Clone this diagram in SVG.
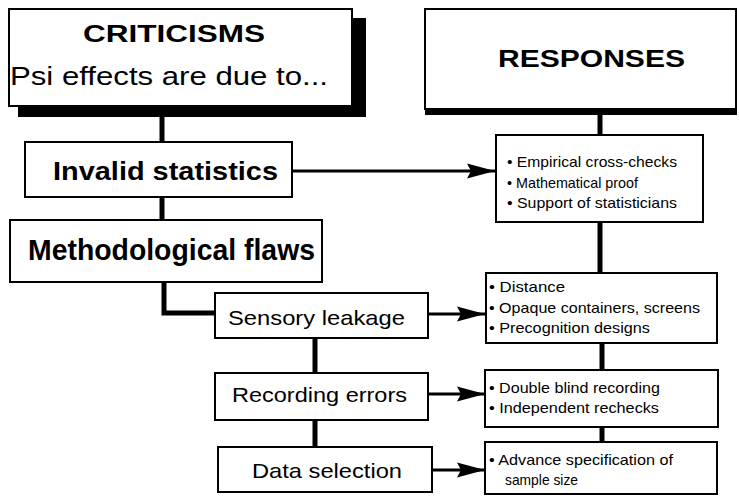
<svg xmlns="http://www.w3.org/2000/svg" width="739" height="496" viewBox="0 0 739 496">
<defs>
<style>
.box{fill:#fff;stroke:#000;stroke-width:2}
.t{font-family:"Liberation Sans",Arial,Helvetica,sans-serif;fill:#000}
.b{font-weight:bold}
.conn{stroke:#000;stroke-width:5;fill:none}
.arr{stroke:#000;stroke-width:3;fill:none;marker-end:url(#ah)}
.s{font-size:15px}
</style>
<marker id="ah" markerWidth="30" markerHeight="18" refX="28" refY="9" orient="auto" markerUnits="userSpaceOnUse">
<path d="M0,1.5 L28,9 L0,16.5 L4,9 Z" fill="#000"/>
</marker>
</defs>
<rect width="739" height="496" fill="#fff"/>

<g id="connectors">
<line class="conn" x1="162" y1="106" x2="162" y2="142"/>
<line class="conn" x1="162" y1="197" x2="162" y2="220"/>
<polyline class="conn" points="164,282 164,313 215,313"/>
<line class="conn" x1="315" y1="338" x2="315" y2="373"/>
<line class="conn" x1="315" y1="420" x2="315" y2="447"/>
<line class="conn" x1="600" y1="114" x2="600" y2="135"/>
<line class="conn" x1="600" y1="222" x2="600" y2="273"/>
<line class="conn" x1="602" y1="343" x2="602" y2="370"/>
<line class="conn" x1="602" y1="427" x2="602" y2="442"/>
<line class="arr" x1="292" y1="171" x2="495" y2="171"/>
<line class="arr" x1="428" y1="314" x2="485" y2="314"/>
<line class="arr" x1="428" y1="394" x2="485" y2="394"/>
<line class="arr" x1="432" y1="470" x2="485" y2="470"/>
</g>

<g id="criticisms">
<rect x="18" y="18" width="348" height="99" fill="#000"/>
<rect class="box" x="9" y="9" width="343" height="97" stroke-width="2.5"/>
<text class="t b" x="83" y="42" font-size="24" textLength="182" lengthAdjust="spacingAndGlyphs">CRITICISMS</text>
<text class="t" x="10" y="85" font-size="25" textLength="318" lengthAdjust="spacingAndGlyphs">Psi effects are due to...</text>
</g>

<g id="responses">
<rect x="425" y="108" width="312" height="7" fill="#000"/>
<rect class="box" x="425" y="9" width="311" height="100"/>
<text class="t b" x="498" y="67" font-size="24" textLength="187" lengthAdjust="spacingAndGlyphs">RESPONSES</text>
</g>

<g id="invalid-statistics">
<rect class="box" x="25" y="142" width="267" height="55"/>
<text class="t b" x="53" y="180" font-size="25" textLength="225" lengthAdjust="spacingAndGlyphs">Invalid statistics</text>
</g>

<g id="methodological-flaws">
<rect class="box" x="10" y="220" width="312" height="62"/>
<text class="t b" x="28" y="260" font-size="29" textLength="287" lengthAdjust="spacingAndGlyphs">Methodological flaws</text>
</g>

<g id="sensory-leakage">
<rect class="box" x="215" y="293" width="213" height="45"/>
<text class="t" x="228" y="325" font-size="21" textLength="177" lengthAdjust="spacingAndGlyphs">Sensory leakage</text>
</g>

<g id="recording-errors">
<rect class="box" x="215" y="373" width="213" height="47"/>
<text class="t" x="232" y="402" font-size="21" textLength="175" lengthAdjust="spacingAndGlyphs">Recording errors</text>
</g>

<g id="data-selection">
<rect class="box" x="218" y="447" width="214" height="45"/>
<text class="t" x="252" y="478" font-size="21" textLength="150" lengthAdjust="spacingAndGlyphs">Data selection</text>
</g>

<g id="resp-statistics">
<rect class="box" x="496" y="135" width="207" height="87"/>
<text class="t s" x="507" y="167" textLength="170" lengthAdjust="spacingAndGlyphs">• Empirical cross-checks</text>
<text class="t s" x="507" y="188" textLength="131" lengthAdjust="spacingAndGlyphs">• Mathematical proof</text>
<text class="t s" x="507" y="208" textLength="170" lengthAdjust="spacingAndGlyphs">• Support of statisticians</text>
</g>

<g id="resp-sensory">
<rect class="box" x="486" y="273" width="231" height="70"/>
<text class="t s" x="489" y="292" textLength="76" lengthAdjust="spacingAndGlyphs">• Distance</text>
<text class="t s" x="489" y="313" textLength="211" lengthAdjust="spacingAndGlyphs">• Opaque containers, screens</text>
<text class="t s" x="489" y="333" textLength="161" lengthAdjust="spacingAndGlyphs">• Precognition designs</text>
</g>

<g id="resp-recording">
<rect class="box" x="485" y="370" width="233" height="57"/>
<text class="t s" x="489" y="393" textLength="171" lengthAdjust="spacingAndGlyphs">• Double blind recording</text>
<text class="t s" x="489" y="413" textLength="170" lengthAdjust="spacingAndGlyphs">• Independent rechecks</text>
</g>

<g id="resp-data">
<rect class="box" x="485" y="442" width="232" height="52"/>
<text class="t s" x="489" y="465" textLength="184" lengthAdjust="spacingAndGlyphs">• Advance specification of</text>
<text class="t s" x="505" y="485" textLength="73" lengthAdjust="spacingAndGlyphs">sample size</text>
</g>
</svg>
